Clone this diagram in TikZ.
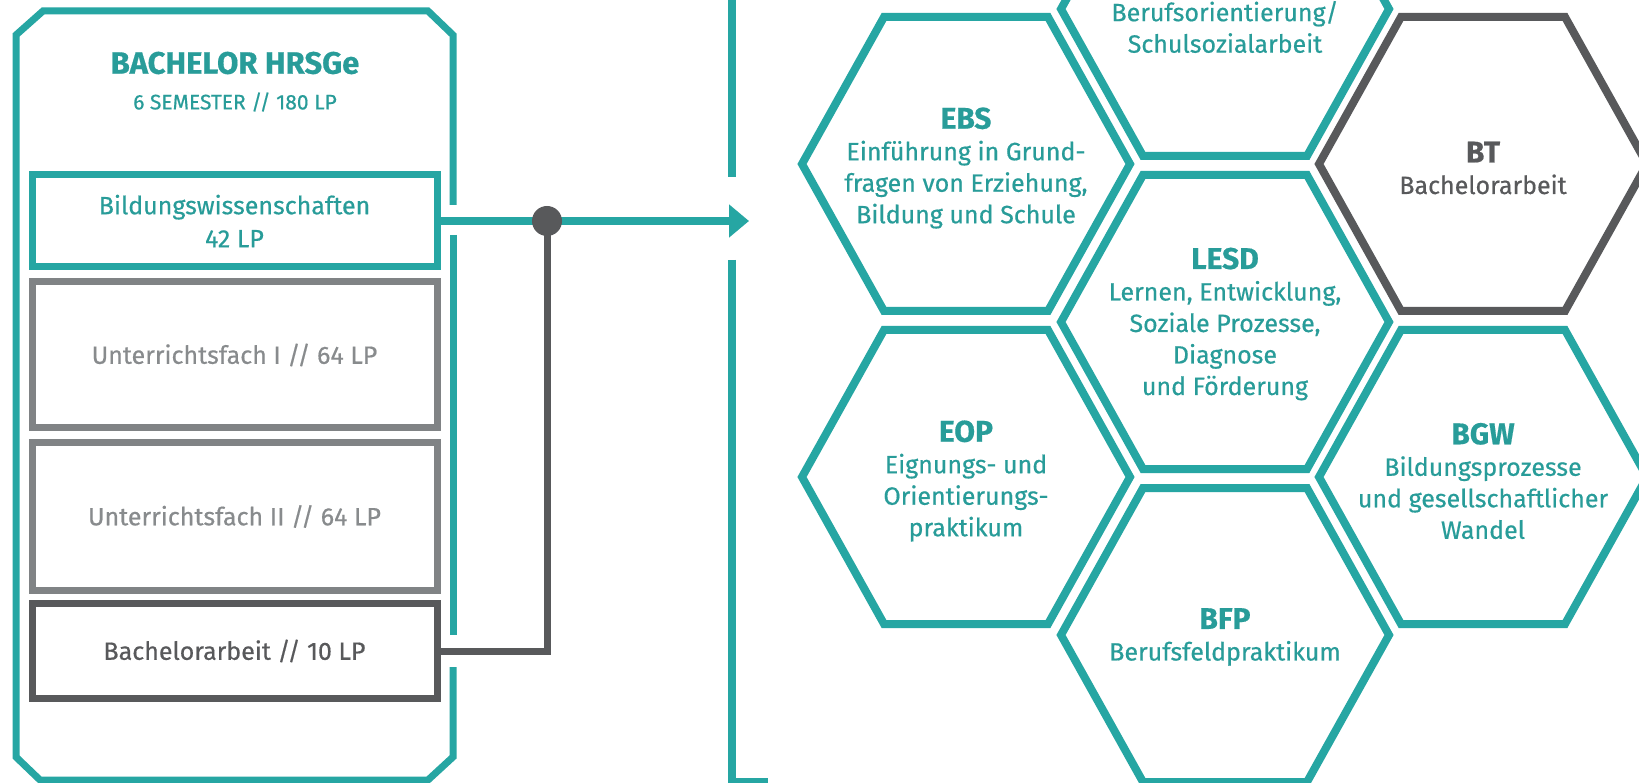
\documentclass[tikz,border=0pt]{standalone}
\usepackage{fontspec}
\setmainfont{Fira Sans}[FakeBold=0.5]
\usetikzlibrary{arrows.meta}

\definecolor{hsteal}{RGB}{38,166,163}
\definecolor{hstext}{RGB}{40,156,153}
\definecolor{hsgray}{RGB}{128,131,133}
\definecolor{hsgraytext}{RGB}{136,139,141}
\definecolor{hsdark}{RGB}{88,89,91}

\newcommand{\hexhead}[1]{{\fontsize{30}{31}\selectfont\bfseries #1}}

\tikzset{
	outline/.style={draw=hsteal, line width=7pt},
	modbox/.style={draw, line width=7pt, minimum width=405pt, inner sep=0pt, align=center, font=\fontsize{25}{33}\selectfont},
	hexline/.style={line width=8pt, line join=miter},
	hextext/.style={align=center, text=hstext, font=\fontsize{25}{31.5}\selectfont},
	jdot/.style={circle, fill=hsdark, minimum size=30pt, inner sep=0pt}
}

\begin{document}
\begin{tikzpicture}[x=1pt,y=-1pt]

	\useasboundingbox[fill=white] (0,0) rectangle (1639,783);

	\draw[outline] (453,235) -- (453,635);
	\draw[outline] (453,667) -- (453,757) -- (428,780) -- (40,780) -- (16,757) -- (16,35) -- (43,11) -- (428,11) -- (453,35) -- (453,205);

	\node[text=hstext, font=\fontsize{31}{36}\selectfont\bfseries] (title) at (235,63) {BACHELOR HRSGe};
	\node[text=hstext, font=\fontsize{21}{24}\selectfont] (sub) at (235,102) {6 SEMESTER // 180 LP};

	\node[modbox, draw=hsteal, text=hstext, minimum height=92pt] (bw) at (234.5,221) {Bildungswissenschaften\\42 LP};
	\node[modbox, draw=hsgray, text=hsgraytext, minimum height=146pt] (uf1) at (234.5,355) {Unterrichtsfach I // 64 LP};
	\node[modbox, draw=hsgray, text=hsgraytext, minimum height=147pt] (uf2) at (234.5,516.5) {Unterrichtsfach II // 64 LP};
	\node[modbox, draw=hsdark, text=hsdark, minimum height=95pt] (ba) at (234.5,651) {Bachelorarbeit // 10 LP};

	\coordinate (tip) at (749,221);
	\coordinate (jn) at (547,221);

	\draw[hsteal, line width=8pt, -{Triangle[length=20pt,width=32pt]}] (bw.east) -- (tip);
	\draw[hsdark, line width=7pt] (ba.east) -| (jn);
	\node[jdot] (dot) at (jn) {};

	\draw[hsteal, line width=8pt] (732,0) -- (732,177);
	\draw[hsteal, line width=8pt] (732,260) -- (732,782) -- (768,782);

	\foreach \cx/\cy/\col in {966/164/hsteal, 966/477/hsteal, 1225/9/hsteal, 1225/322/hsteal, 1225/635/hsteal, 1483/164/hsdark, 1483/477/hsteal}
		\draw[hexline, draw=\col] (\cx,\cy) ++(-164,0) -- ++(82,-147) -- ++(164,0) -- ++(82,147) -- ++(-82,147) -- ++(-164,0) -- cycle;

	\node[hextext] (ebs) at (966,168) {\hexhead{EBS}\\Einführung in Grund-\\fragen von Erziehung,\\Bildung und Schule};
	\node[hextext] (eop) at (966,481) {\hexhead{EOP}\\Eignungs- und\\Orientierungs-\\praktikum};
	\node[hextext] (bso) at (1225,27) {Berufsorientierung/\\Schulsozialarbeit};
	\node[hextext] (lesd) at (1225,324) {\hexhead{LESD}\\Lernen, Entwicklung,\\Soziale Prozesse,\\Diagnose\\und Förderung};
	\node[hextext] (bfp) at (1225,637) {\hexhead{BFP}\\Berufsfeldpraktikum};
	\node[hextext, text=hsdark] (bt) at (1483,168) {\hexhead{BT}\\Bachelorarbeit};
	\node[hextext] (bgw) at (1483,481) {\hexhead{BGW}\\Bildungsprozesse\\und gesellschaftlicher\\Wandel};

\end{tikzpicture}
\end{document}
